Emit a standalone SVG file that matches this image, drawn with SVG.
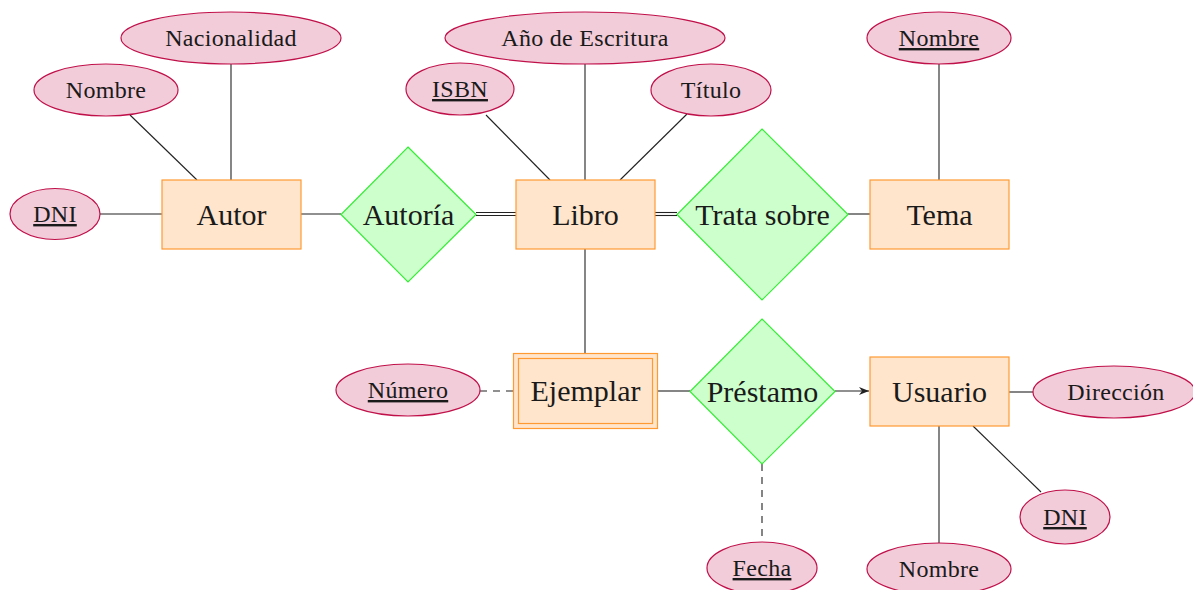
<svg xmlns="http://www.w3.org/2000/svg" width="1193" height="590" viewBox="0 0 1193 590">
<defs>
<style>
.ent rect{fill:#FFE5CC;stroke:#FF9A33;stroke-width:1.2}
.rel polygon{fill:#CCFFCC;stroke:#33EE33;stroke-width:1.2}
.att ellipse{fill:#F2CCD9;stroke:#C0104A;stroke-width:1.2}
.et{font-family:"Liberation Serif",serif;font-size:30px;fill:#1a1a1a;text-anchor:middle}
.at{font-family:"Liberation Serif",serif;font-size:24px;letter-spacing:0.3px;fill:#1a1a1a;text-anchor:middle}
.u{text-decoration:underline}
.c line{stroke:#222;stroke-width:1.1}
.c .d{stroke-dasharray:7,6}
</style>
<marker id="arr" viewBox="0 0 10 10" refX="10" refY="5" markerWidth="10" markerHeight="10" markerUnits="userSpaceOnUse" orient="auto">
<path d="M0,1 L10,5 L0,9 L3,5 Z" fill="#222"/>
</marker>
</defs>
<g class="c" id="connectors">
<line x1="100" y1="214" x2="162" y2="214"/>
<line x1="130" y1="115" x2="197" y2="180"/>
<line x1="231" y1="64" x2="231" y2="180"/>
<line x1="301" y1="214" x2="341" y2="214"/>
<line x1="476" y1="212.5" x2="516" y2="212.5"/>
<line x1="476" y1="215.5" x2="516" y2="215.5"/>
<line x1="486" y1="115" x2="550" y2="180"/>
<line x1="585" y1="64" x2="585" y2="180"/>
<line x1="687" y1="114" x2="620" y2="180"/>
<line x1="655" y1="212.5" x2="677" y2="212.5"/>
<line x1="655" y1="215.5" x2="677" y2="215.5"/>
<line x1="848" y1="214" x2="870" y2="214"/>
<line x1="939" y1="64" x2="939" y2="180"/>
<line x1="585" y1="249" x2="585" y2="353"/>
<line class="d" x1="480" y1="391" x2="513" y2="391"/>
<line x1="658" y1="391" x2="690" y2="391"/>
<line x1="835" y1="391" x2="869" y2="391" marker-end="url(#arr)"/>
<line x1="1009" y1="392" x2="1033" y2="392"/>
<line x1="973" y1="426" x2="1041" y2="492"/>
<line x1="939" y1="426" x2="939" y2="543"/>
<line class="d" x1="762" y1="464" x2="762" y2="541"/>
</g>
<g class="ent" id="autor"><rect x="162" y="180" width="139" height="69"/><text class="et" x="231.5" y="224.5">Autor</text></g>
<g class="ent" id="libro"><rect x="516" y="180" width="139" height="69"/><text class="et" x="585.5" y="224.5">Libro</text></g>
<g class="ent" id="tema"><rect x="870" y="180" width="139" height="69"/><text class="et" x="939.5" y="224.5">Tema</text></g>
<g class="ent" id="usuario"><rect x="870" y="357" width="139" height="69"/><text class="et" x="939.5" y="401.5">Usuario</text></g>
<g class="ent" id="ejemplar"><rect x="513.5" y="353.5" width="144" height="75"/><rect x="518.5" y="358.5" width="134" height="65"/><text class="et" x="585.5" y="400.5">Ejemplar</text></g>
<g class="rel" id="autoria"><polygon points="408,147 476,214.5 408,282 341,214.5"/><text class="et" x="408.5" y="224.5">Autoría</text></g>
<g class="rel" id="trata"><polygon points="762,129 848,214.5 762,300 677,214.5"/><text class="et" x="762.5" y="224.5">Trata sobre</text></g>
<g class="rel" id="prestamo"><polygon points="762,319 835,391.5 762,464 690,391.5"/><text class="et" x="762.5" y="401.5">Préstamo</text></g>
<g class="att" id="dni1"><ellipse cx="55" cy="214" rx="45" ry="25.5"/><text class="at u" x="55" y="222">DNI</text></g>
<g class="att" id="nombre1"><ellipse cx="106" cy="90" rx="72" ry="26"/><text class="at" x="106" y="98">Nombre</text></g>
<g class="att" id="nacionalidad"><ellipse cx="231" cy="38" rx="110" ry="26"/><text class="at" x="231" y="46">Nacionalidad</text></g>
<g class="att" id="isbn"><ellipse cx="460" cy="89" rx="54" ry="26"/><text class="at u" x="460" y="97">ISBN</text></g>
<g class="att" id="anio"><ellipse cx="585" cy="38" rx="140" ry="26"/><text class="at" x="585" y="46">Año de Escritura</text></g>
<g class="att" id="titulo"><ellipse cx="711" cy="90" rx="60" ry="26"/><text class="at" x="711" y="98">Título</text></g>
<g class="att" id="nombre2"><ellipse cx="939" cy="38" rx="72" ry="26"/><text class="at u" x="939" y="46">Nombre</text></g>
<g class="att" id="numero"><ellipse cx="408" cy="390" rx="72" ry="26"/><text class="at u" x="408" y="398">Número</text></g>
<g class="att" id="direccion"><ellipse cx="1114" cy="392" rx="81" ry="26"/><text class="at" x="1116" y="400">Dirección</text></g>
<g class="att" id="dni2"><ellipse cx="1065" cy="517" rx="45" ry="27"/><text class="at u" x="1065" y="525">DNI</text></g>
<g class="att" id="nombre3"><ellipse cx="939" cy="569" rx="72" ry="26"/><text class="at" x="939" y="577">Nombre</text></g>
<g class="att" id="fecha"><ellipse cx="762" cy="568" rx="55" ry="26"/><text class="at u" x="762" y="576">Fecha</text></g>
</svg>
